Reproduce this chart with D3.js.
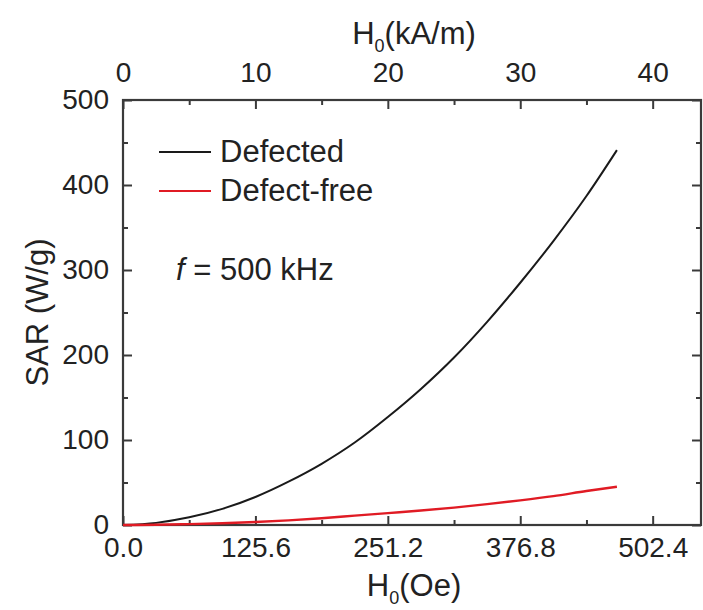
<!DOCTYPE html>
<html>
<head>
<meta charset="utf-8">
<script src="https://cdn.jsdelivr.net/npm/d3@7"></script>
<style>
  html, body { margin: 0; padding: 0; background: #fff; }
  svg { display: block; font-family: "Liberation Sans", Arial, sans-serif; }
</style>
</head>
<body>
<svg id="chart" width="703" height="610"></svg>
<script>
// ---- data ----
const H_kAm = [0, 2.5, 5, 7.5, 10, 12.5, 15, 17.5, 20, 22.5, 25, 27.5, 30, 32.5, 35, 37.3];
const sarDefected = [0, 2.5, 9, 19, 33, 51, 72, 97, 127, 160, 197, 239, 285, 334, 387, 441];
const sarDefectFree = [0, 0.3, 1, 2, 3.5, 5.5, 8, 11, 14, 17, 20.5, 24.5, 29, 34, 40, 45];
const seriesNames = ["Defected", "Defect-free"];
const seriesColors = ["#1a1a1a", "#e01b24"];
const topTicks = [0, 10, 20, 30, 40];
const topMinor = [5, 15, 25, 35];
const bottomTicks = [0, 125.6, 251.2, 376.8, 502.4];
const bottomMinor = [62.8, 188.4, 314, 439.6];
const yTicks = [0, 100, 200, 300, 400, 500];
const yMinor = [50, 150, 250, 350, 450];
const OE_PER_KAM = 12.56;

// ---- layout ----
const L = 123, R = 701, T = 100, B = 525;
const svg = d3.select("#chart");

const xK = d3.scaleLinear().domain([0, 43.65]).range([L, R]);
const xO = d3.scaleLinear().domain([0, 43.65 * OE_PER_KAM]).range([L, R]);
const y = d3.scaleLinear().domain([0, 500]).range([B, T]);

const axisColor = "#3a3a3a";
const fsTick = 28;
const fsText = 31;

function styleAxis(g) {
  g.select(".domain").remove();
  g.selectAll(".tick line").attr("stroke", axisColor).attr("stroke-width", 2);
  g.selectAll(".tick text").attr("fill", "#222").attr("font-size", fsTick)
    .attr("font-family", "'Liberation Sans', Arial, sans-serif");
}

// bottom axis (Oe)
svg.append("g").attr("transform", `translate(0,${B})`)
  .call(d3.axisBottom(xO).tickValues(bottomTicks).tickFormat(d3.format(".1f")).tickSizeInner(-9).tickSizeOuter(0).tickPadding(12))
  .call(styleAxis);
svg.append("g").attr("transform", `translate(0,${B})`)
  .call(d3.axisBottom(xO).tickValues(bottomMinor).tickFormat("").tickSizeInner(-5).tickSizeOuter(0))
  .call(styleAxis);

// top axis (kA/m)
svg.append("g").attr("transform", `translate(0,${T})`)
  .call(d3.axisTop(xK).tickValues(topTicks).tickFormat(d3.format("d")).tickSizeInner(-9).tickSizeOuter(0).tickPadding(18))
  .call(styleAxis);
svg.append("g").attr("transform", `translate(0,${T})`)
  .call(d3.axisTop(xK).tickValues(topMinor).tickFormat("").tickSizeInner(-5).tickSizeOuter(0))
  .call(styleAxis);

// left axis
svg.append("g").attr("transform", `translate(${L},0)`)
  .call(d3.axisLeft(y).tickValues(yTicks).tickFormat(d3.format("d")).tickSizeInner(-9).tickSizeOuter(0).tickPadding(14))
  .call(styleAxis);
svg.append("g").attr("transform", `translate(${L},0)`)
  .call(d3.axisLeft(y).tickValues(yMinor).tickFormat("").tickSizeInner(-5).tickSizeOuter(0))
  .call(styleAxis);

// right axis
svg.append("g").attr("transform", `translate(${R},0)`)
  .call(d3.axisRight(y).tickValues(yTicks).tickFormat("").tickSizeInner(-9).tickSizeOuter(0))
  .call(styleAxis);
svg.append("g").attr("transform", `translate(${R},0)`)
  .call(d3.axisRight(y).tickValues(yMinor).tickFormat("").tickSizeInner(-5).tickSizeOuter(0))
  .call(styleAxis);

// frame
svg.append("rect").attr("x", L).attr("y", T).attr("width", R - L).attr("height", B - T)
  .attr("fill", "none").attr("stroke", axisColor).attr("stroke-width", 2.2);

// curves
const seriesData = [sarDefected, sarDefectFree];
const line = d3.line().x(d => xK(d[0])).y(d => y(d[1])).curve(d3.curveMonotoneX);
seriesData.forEach((vals, i) => {
  svg.append("path")
    .datum(H_kAm.map((h, j) => [h, vals[j]]))
    .attr("fill", "none").attr("stroke", seriesColors[i]).attr("stroke-width", i === 0 ? 2 : 2.4)
    .attr("d", line);
});

// legend
const legY = [152, 191];
seriesNames.forEach((name, i) => {
  svg.append("line").attr("x1", 159).attr("x2", 211).attr("y1", legY[i]).attr("y2", legY[i])
    .attr("stroke", seriesColors[i]).attr("stroke-width", 2.2);
  svg.append("text").attr("x", 220).attr("y", legY[i] + 10).attr("font-size", fsText).attr("fill", "#222")
    .text(name);
});

// annotation
const ann = svg.append("text").attr("x", 176).attr("y", 280).attr("font-size", fsText).attr("fill", "#222");
ann.append("tspan").attr("font-style", "italic").text("f");
ann.append("tspan").text(" = 500 kHz");

// axis titles
function hTitle(xc, yb, unit) {
  const t = svg.append("text").attr("x", xc).attr("y", yb).attr("text-anchor", "middle")
    .attr("font-size", fsText).attr("fill", "#222");
  t.append("tspan").text("H");
  t.append("tspan").attr("font-size", 18).attr("dy", 8).text("0");
  t.append("tspan").attr("dy", -8).text(unit);
}
hTitle(414, 44, "(kA/m)");
hTitle(414, 596, "(Oe)");

svg.append("text").attr("transform", `translate(48,${(T + B) / 2}) rotate(-90)`)
  .attr("text-anchor", "middle").attr("font-size", fsText).attr("fill", "#222")
  .text("SAR (W/g)");
</script>
</body>
</html>
